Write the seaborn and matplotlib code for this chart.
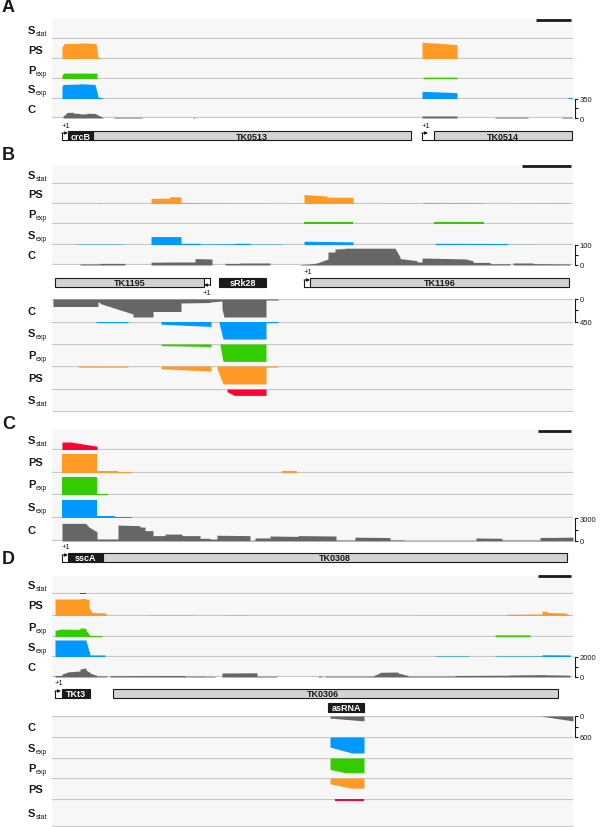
import matplotlib
matplotlib.use("Agg")
import matplotlib.pyplot as plt
from matplotlib.patches import Rectangle
import seaborn as sns

# ===============================
# DATA  (segments: start, end, height at start, height at end)
# signal tracks in % of track height, C tracks in reads
# ===============================
TOP_ORDER = ["Sstat", "PS", "Pexp", "Sexp", "C"]
BOT_ORDER = ["C", "Sexp", "Pexp", "PS", "Sstat"]

# --- panel A ---
A_SSTAT = []
A_PS = [(62, 64, 60, 76), (64, 80, 77, 78), (80, 90, 80, 80), (90, 96, 78, 77), (96, 98, 77, 10),
        (98, 104, 8, 2), (422, 457, 84, 72), (562, 572, 3, 3)]
A_PEXP = [(62, 64, 20, 30), (64, 97, 30, 29), (423, 457, 9, 9)]
A_SEXP = [(62, 63, 60, 72), (63, 80, 72, 74), (80, 88, 76, 74), (88, 95, 74, 72), (95, 98, 72, 10),
          (98, 103, 8, 3), (422, 457, 37, 30), (568, 572, 5, 5)]
A_C = [(63, 67, 30, 95), (67, 73, 100, 103), (73, 80, 90, 80), (80, 87, 72, 75), (87, 96, 85, 80),
       (96, 103, 70, 10), (114, 142, 14, 12), (193, 195, 10, 10), (422, 457, 36, 36),
       (495, 528, 14, 14), (562, 572, 14, 14)]
A_CMAX = 350

# --- panel B, forward strand ---
B_SSTAT = []
B_PS = [(100, 102, 6, 6), (151, 170, 28, 30), (170, 181, 37, 35), (181, 196, 8, 7), (196, 228, 5, 5),
        (228, 270, 4, 4), (292, 300, 4, 4), (304, 327, 47, 40), (327, 353, 34, 34), (382, 420, 3, 3),
        (423, 483, 8, 7), (515, 568, 4, 5)]
B_PEXP = [(304, 353, 10, 10), (434, 484, 8, 8)]
B_SEXP = [(75, 124, 4, 4), (151, 181, 40, 40), (181, 200, 8, 8), (200, 235, 5, 6), (235, 250, 8, 8),
          (250, 283, 4, 4), (304, 353, 18, 15), (435, 508, 8, 7), (510, 535, 3, 3)]
B_C = [(80, 100, 5, 5), (100, 125, 8, 8), (151, 180, 14, 15), (180, 195, 15, 15), (195, 212, 32, 30),
       (225, 240, 8, 8), (240, 270, 10, 10), (300, 310, 2, 5), (310, 317, 5, 10), (317, 328, 10, 30),
       (328, 335, 65, 65), (335, 345, 80, 82), (345, 395, 84, 84), (395, 400, 84, 40), (400, 417, 32, 22),
       (417, 422, 15, 15), (422, 467, 35, 30), (467, 473, 28, 22), (473, 490, 13, 13), (490, 510, 6, 6),
       (513, 533, 10, 10), (533, 570, 7, 5)]
B_CMAX = 100

# --- panel B, reverse strand ---
BR_C = [(53, 98, 150, 150), (98, 100, 60, 70), (100, 133, 90, 300), (133, 153, 360, 360),
        (153, 181, 250, 250), (181, 210, 80, 70), (210, 222, 60, 40), (222, 224, 200, 360),
        (224, 266, 360, 360), (266, 278, 20, 20)]
BR_SEXP = [(96, 128, 5, 5), (161, 211, 12, 22), (219, 223, 5, 78), (223, 266, 78, 78), (266, 278, 5, 5)]
BR_PEXP = [(161, 211, 7, 12), (220, 223, 5, 79), (223, 266, 79, 79)]
BR_PS = [(78, 128, 5, 5), (161, 211, 12, 22), (217, 223, 10, 78), (223, 266, 78, 78), (266, 278, 5, 5)]
BR_SSTAT = [(227, 234, 12, 28), (234, 266, 29, 29)]
BR_CMAX = 450

# --- panel C ---
C_SSTAT = [(62, 72, 38, 38), (72, 97, 37, 18)]
C_PS = [(62, 97, 82, 82), (97, 118, 8, 8), (118, 132, 4, 4), (282, 297, 8, 8)]
C_PEXP = [(62, 97, 80, 80), (97, 108, 5, 5)]
C_SEXP = [(62, 97, 78, 78), (97, 115, 8, 8), (115, 132, 4, 4)]
C_C = [(62, 86, 2300, 2300), (86, 88, 2200, 2000), (88, 97, 1900, 1200), (97, 118, 260, 260),
       (118, 140, 2080, 2000), (140, 145, 1820, 1820), (145, 153, 1350, 1350), (153, 165, 700, 700),
       (165, 182, 900, 900), (182, 200, 700, 700), (200, 210, 350, 350), (210, 217, 250, 250),
       (217, 250, 750, 700), (250, 255, 60, 60), (255, 270, 400, 400), (270, 298, 650, 600),
       (298, 336, 700, 650), (336, 355, 100, 100), (355, 390, 500, 450), (390, 404, 130, 130),
       (404, 476, 60, 60), (476, 502, 400, 350), (502, 540, 100, 100), (540, 573, 450, 500)]
C_CMAX = 3000

# --- panel D, forward strand ---
D_SSTAT = [(80, 86, 8, 8)]
D_PS = [(55, 80, 77, 77), (80, 86, 79, 79), (86, 89, 77, 77), (89, 92, 40, 15), (92, 106, 16, 14),
        (148, 193, 4, 4), (225, 247, 4, 4), (413, 507, 3, 3), (507, 542, 8, 9), (542, 547, 22, 22),
        (547, 566, 16, 14), (566, 570, 12, 2)]
D_PEXP = [(55, 60, 30, 35), (60, 80, 36, 35), (80, 86, 42, 40), (86, 90, 30, 5), (90, 102, 5, 5),
          (495, 530, 8, 8)]
D_SEXP = [(55, 86, 83, 83), (86, 90, 80, 12), (90, 105, 10, 10), (435, 469, 5, 5), (495, 542, 5, 5),
          (542, 570, 11, 10)]
D_C = [(55, 62, 150, 150), (62, 67, 300, 450), (67, 80, 500, 600), (80, 86, 800, 900), (86, 90, 700, 450),
       (90, 97, 400, 150), (97, 107, 100, 100), (110, 185, 130, 150), (185, 205, 90, 90), (205, 215, 70, 70),
       (222, 257, 400, 420), (257, 277, 80, 80), (318, 322, 80, 80), (325, 373, 80, 80), (373, 380, 100, 420),
       (380, 398, 470, 500), (398, 408, 400, 150), (408, 455, 90, 90), (455, 510, 150, 180),
       (510, 545, 200, 240), (545, 570, 220, 180)]
D_CMAX = 2000

# --- panel D, reverse strand ---
DR_C = [(330, 364, 60, 140), (540, 573, 0, 140)]
DR_SEXP = [(330, 352, 48, 76), (352, 364, 76, 76)]
DR_PEXP = [(330, 345, 57, 73), (345, 364, 73, 73)]
DR_PS = [(330, 350, 27, 48), (350, 364, 48, 48)]
DR_SSTAT = [(335, 364, 7, 7)]
DR_CMAX = 600

# genes: name, start, end, kind, label position
A_GENES = [("crcB", 68, 93, "srna", None), ("TK0513", 93, 411, "cds", None), ("TK0514", 434, 572, "cds", None)]
A_TSS = [(62, 1), (422, 1)]
B_GENES = [("TK1195", 55, 204, "cds", None), ("sRk28", 219, 266, "srna", None), ("TK1196", 310, 569, "cds", None)]
B_TSS = [(210, -1), (304, 1)]
C_GENES = [("sscA", 68, 103, "srna", None), ("TK0308", 103, 567, "cds", None)]
C_TSS = [(62, 1)]
D_GENES = [("TKt3", 62, 90, "srna", None), ("TK0306", 113, 558, "cds", 323)]
D_TSS = [(55, 1)]
D_AS_GENES = [("asRNA", 328, 364, "srna", None)]

# ===============================
# STYLE / LAYOUT
# ===============================
sns.set_theme(style="white")
plt.rcParams["font.family"] = ["Liberation Sans", "DejaVu Sans"]

W, H = 600, 828
X0, X1 = 52, 573
BG = "#f7f7f7"
LINE = "#c8c8c8"
COL = dict(zip(["Sstat", "PS", "Pexp", "Sexp", "C"],
               sns.color_palette(["#ff0033", "#ff9a26", "#33cc00", "#0099ff", "#666666"])))
LABELS = {"Sstat": ("S", "stat"), "PS": ("PS", None), "Pexp": ("P", "exp"),
          "Sexp": ("S", "exp"), "C": ("C", None)}

fig = plt.figure(figsize=(W / 100, H / 100), dpi=100)

ov = fig.add_axes([0, 0, 1, 1])
ov.set_xlim(0, W)
ov.set_ylim(H, 0)
ov.axis("off")
ov.set_zorder(10)


def px_axes(x0, y0, x1, y1):
    return fig.add_axes([x0 / W, 1 - y1 / H, (x1 - x0) / W, (y1 - y0) / H])


def draw_tracks(order, bounds, data, cmax, reverse=False):
    # separators first, tracks are transparent-topped by their own fills
    for i, name in enumerate(order):
        y0, y1 = bounds[i], bounds[i + 1]
        ax = px_axes(X0, y0, X1, y1)
        ax.set_facecolor(BG)
        ymax = cmax if name == "C" else 100
        ax.axhline(0, color=LINE, lw=1.6, zorder=0)
        xs, ys = [], []
        for a, b, h0, h1 in data[name]:
            xs += [a, a, b, b]
            ys += [0, h0, h1, 0]
        if xs:
            ax.fill_between(xs, 0, ys, color=COL[name], lw=0, zorder=2)
        ax.set_xlim(X0, X1)
        ax.set_ylim((ymax, 0) if reverse else (0, ymax))
        ax.set_xticks([])
        sns.despine(ax=ax, left=True, bottom=True)
        if name == "C":
            ax.yaxis.tick_right()
            sp = ax.spines["right"]
            sp.set_visible(True)
            sp.set_position(("outward", 1.5))
            sp.set_linewidth(0.8)
            sp.set_color("k")
            ax.set_yticks([0, ymax])
            ax.set_yticklabels(["0", str(ymax)])
            ax.set_yticks([ymax / 2], minor=True)
            ax.tick_params(axis="y", which="both", right=True, left=False, direction="out",
                           length=2.5, width=0.8, pad=1, labelsize=5.5, colors="k")
        else:
            ax.set_yticks([])
        # track label
        yc = (y0 + y1) / 2
        main, sub = LABELS[name]
        ov.text(28, yc + 3.5, main, fontsize=8, weight="bold", va="baseline", color="k")
        if sub:
            ov.text(36, yc + 5.5, sub, fontsize=5, va="baseline", color="k")
    if reverse:
        # closing line under the last reverse-strand track
        ov.hlines(bounds[-1], X0, X1, color=LINE, lw=0.8)


def draw_genes(genes, tss, ytop, ybot):
    for name, a, b, kind, lx in genes:
        fc = "k" if kind == "srna" else "#d3d3d3"
        tc = "w" if kind == "srna" else "k"
        ov.add_patch(Rectangle((a, ytop), b - a, ybot - ytop, facecolor=fc, edgecolor="k", lw=0.8))
        ov.text(lx if lx else (a + b) / 2, (ytop + ybot) / 2 + 0.5, name, ha="center", va="center",
                fontsize=6.5, weight="bold", color=tc)
    for pos, strand in tss:
        if strand > 0:
            nxt = min(a for _, a, _, _, _ in genes if a >= pos)
            ov.plot([pos, nxt], [ybot, ybot], color="k", lw=0.8)
            ov.plot([pos, pos], [ybot, ybot - 7], color="k", lw=0.8)
            ov.annotate("", xy=(pos + 6, ybot - 7), xytext=(pos, ybot - 7),
                        arrowprops=dict(arrowstyle="-|>", lw=0.8, color="k", mutation_scale=4,
                                        shrinkA=0, shrinkB=0))
            ov.text(pos, ytop - 6, "+1", fontsize=5.5, ha="left", va="center", color="k")
        else:
            prv = max(b for _, _, b, _, _ in genes if b <= pos)
            ov.plot([prv, pos], [ytop, ytop], color="k", lw=0.8)
            ov.plot([pos, pos], [ytop, ytop + 7], color="k", lw=0.8)
            ov.annotate("", xy=(pos - 6, ytop + 7), xytext=(pos, ytop + 7),
                        arrowprops=dict(arrowstyle="-|>", lw=0.8, color="k", mutation_scale=4,
                                        shrinkA=0, shrinkB=0))
            ov.text(pos - 3, ybot + 6, "+1", fontsize=5.5, ha="center", va="center", color="k")


# ===============================
# PANELS
# ===============================
draw_tracks(TOP_ORDER, [20, 40, 60, 80, 99.5, 119],
            dict(Sstat=A_SSTAT, PS=A_PS, Pexp=A_PEXP, Sexp=A_SEXP, C=A_C), A_CMAX)
draw_genes(A_GENES, A_TSS, 132, 141)

draw_tracks(TOP_ORDER, [166, 185, 205, 225, 246, 266],
            dict(Sstat=B_SSTAT, PS=B_PS, Pexp=B_PEXP, Sexp=B_SEXP, C=B_C), B_CMAX)
draw_genes(B_GENES, B_TSS, 279, 288)
draw_tracks(BOT_ORDER, [300, 322.5, 345, 367, 390, 412],
            dict(Sstat=BR_SSTAT, PS=BR_PS, Pexp=BR_PEXP, Sexp=BR_SEXP, C=BR_C), BR_CMAX, reverse=True)

draw_tracks(TOP_ORDER, [430, 451, 473.5, 496, 519, 542],
            dict(Sstat=C_SSTAT, PS=C_PS, Pexp=C_PEXP, Sexp=C_SEXP, C=C_C), C_CMAX)
draw_genes(C_GENES, C_TSS, 554, 563)

draw_tracks(TOP_ORDER, [577, 595, 617, 637.5, 658, 678],
            dict(Sstat=D_SSTAT, PS=D_PS, Pexp=D_PEXP, Sexp=D_SEXP, C=D_C), D_CMAX)
draw_genes(D_GENES, D_TSS, 690, 699)
draw_genes(D_AS_GENES, [], 704, 713)
draw_tracks(BOT_ORDER, [717, 738, 759, 779, 800, 827],
            dict(Sstat=DR_SSTAT, PS=DR_PS, Pexp=DR_PEXP, Sexp=DR_SEXP, C=DR_C), DR_CMAX, reverse=True)

# scale bars
for y, xa in [(21, 536), (167, 522), (432, 538), (577, 538)]:
    ov.hlines(y, xa, 571, color="k", lw=2)

# panel letters
for letter, y in [("A", 8), ("B", 156), ("C", 425), ("D", 560)]:
    ov.text(2, y, letter, fontsize=13, weight="bold", va="center", ha="left", color="k")

fig.savefig("out.png", dpi=100)
